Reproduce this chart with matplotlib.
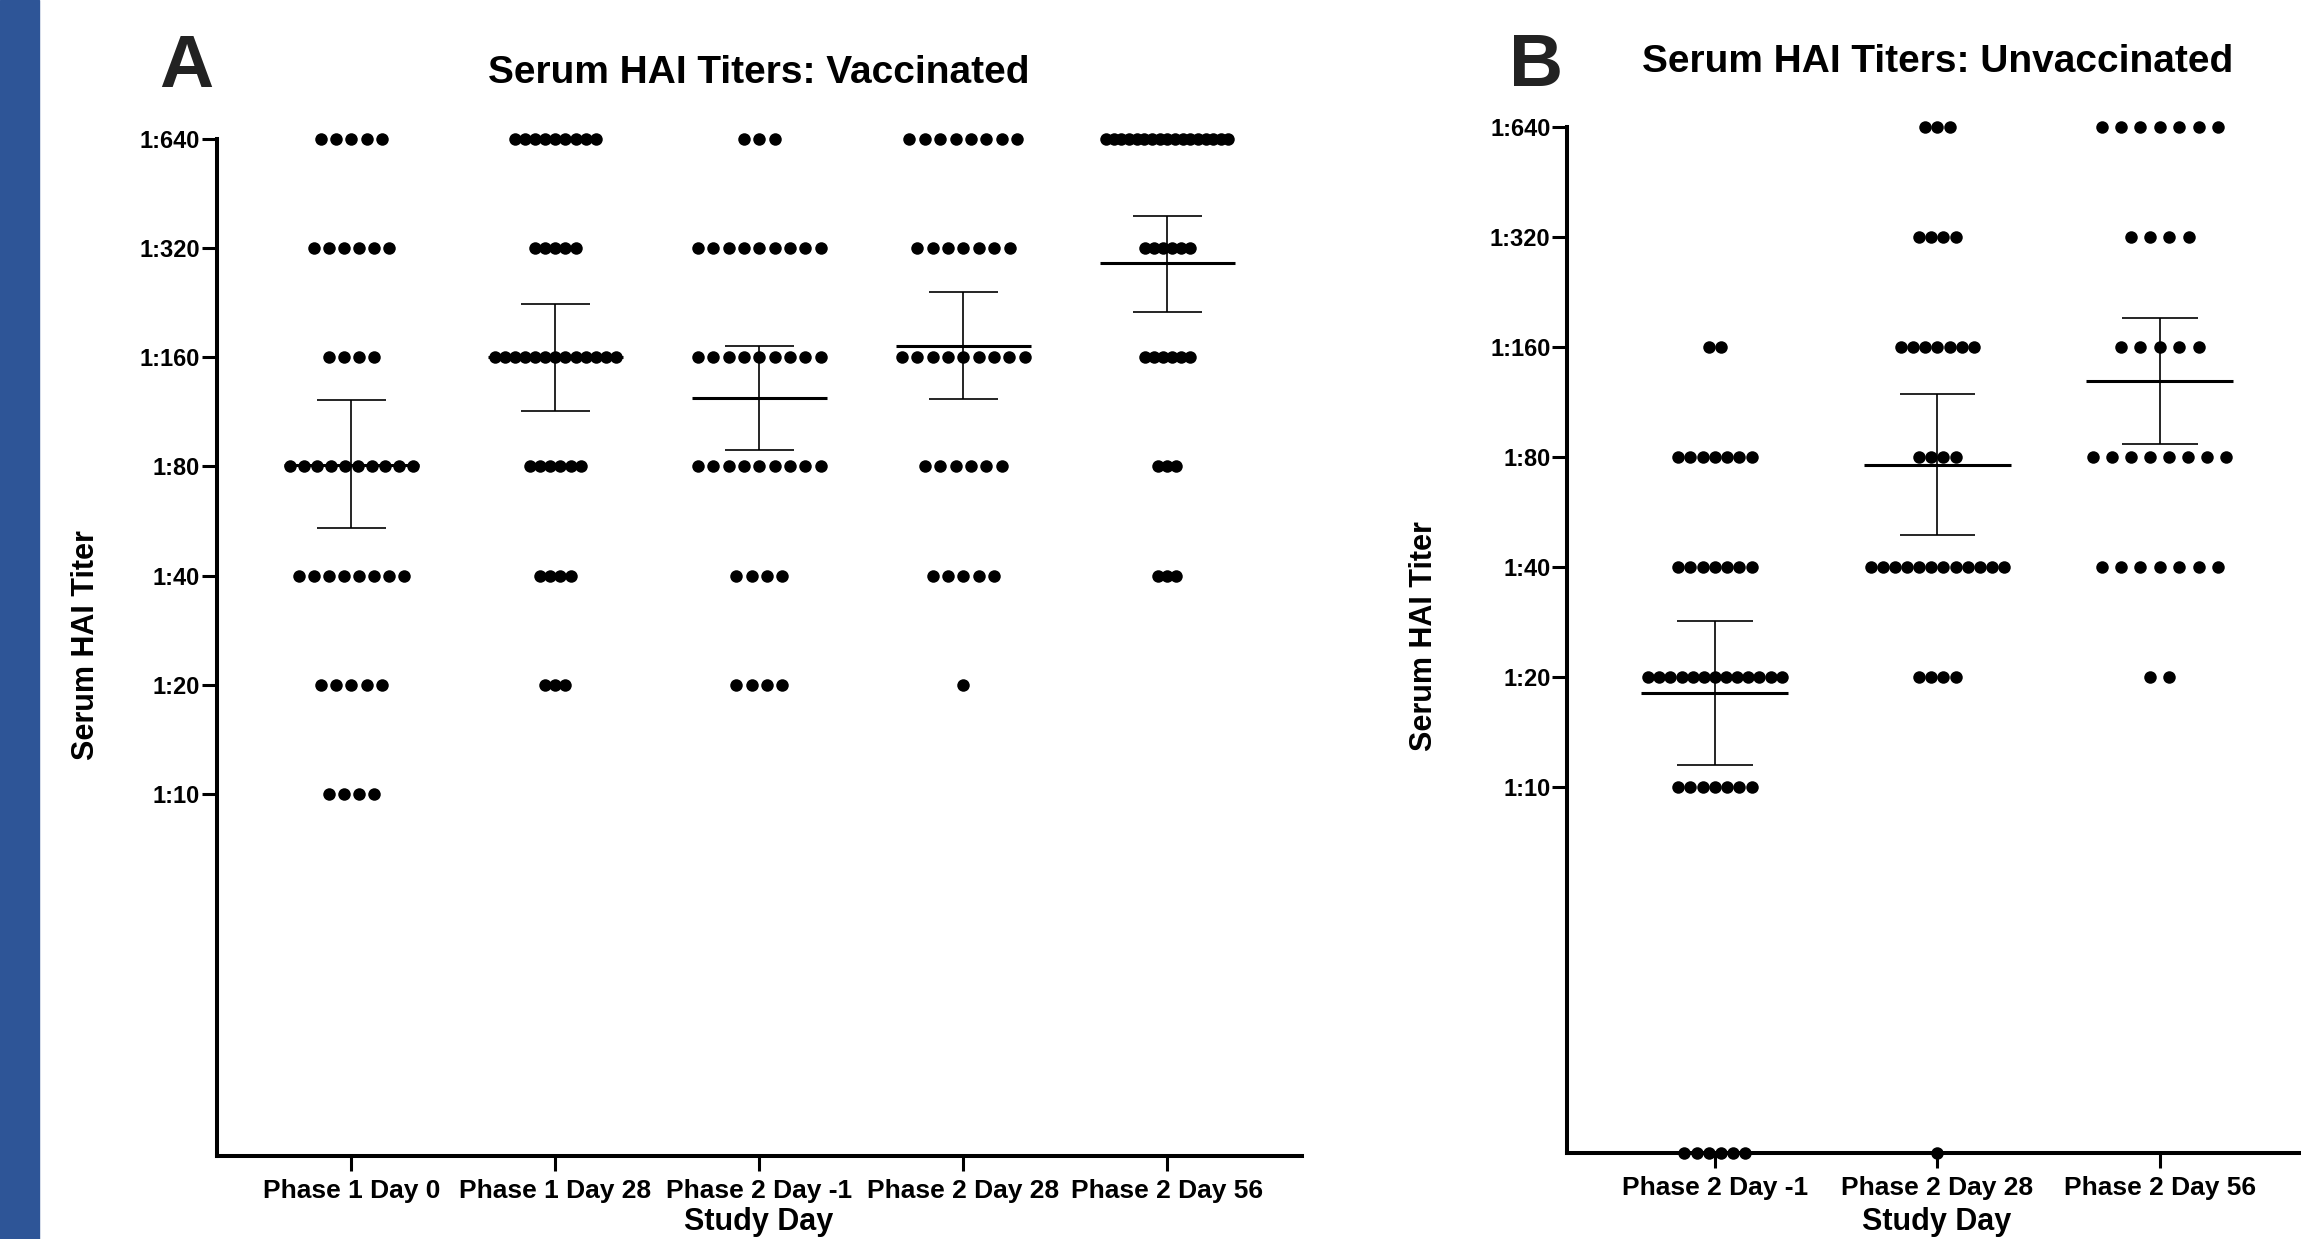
import matplotlib
matplotlib.use('Agg')
import matplotlib.pyplot as plt
from matplotlib.patches import Rectangle
from matplotlib.ticker import NullLocator
import numpy as np

plt.rcParams['font.family'] = ['Liberation Sans', 'DejaVu Sans']
plt.rcParams['font.weight'] = 'bold'

# ---------------- data ----------------
titer_levels = [640, 320, 160, 80, 40, 20, 10, 1]          # 1 = below detection (on axis)
ytick_values = [10, 20, 40, 80, 160, 320, 640]
ytick_labels = ['1:10', '1:20', '1:40', '1:80', '1:160', '1:320', '1:640']

# Panel A: vaccinated
groups_A = ['Phase 1 Day 0', 'Phase 1 Day 28', 'Phase 2 Day -1', 'Phase 2 Day 28', 'Phase 2 Day 56']
counts_A_p1_day0 = [5, 6, 4, 10, 8, 5, 4, 0]
counts_A_p1_day28 = [9, 5, 13, 6, 4, 3, 0, 0]
counts_A_p2_daym1 = [3, 9, 9, 9, 4, 4, 0, 0]
counts_A_p2_day28 = [8, 7, 9, 6, 5, 1, 0, 0]
counts_A_p2_day56 = [17, 6, 6, 3, 3, 0, 0, 0]
gmean_A = [81, 160, 124, 172, 291]
ci_low_A = [54, 114, 89, 123, 214]
ci_high_A = [122, 224, 172, 242, 393]

# Panel B: unvaccinated
groups_B = ['Phase 2 Day -1', 'Phase 2 Day 28', 'Phase 2 Day 56']
counts_B_p2_daym1 = [0, 0, 2, 7, 7, 13, 7, 6]
counts_B_p2_day28 = [3, 4, 7, 4, 12, 4, 0, 1]
counts_B_p2_day56 = [7, 4, 5, 8, 7, 2, 0, 0]
gmean_B = [18.1, 76, 129]
ci_low_B = [11.5, 49, 87]
ci_high_B = [28.5, 119, 192]

# ---------------- style ----------------
DOT_SPACING_A = [0.074, 0.0495, 0.0755, 0.0755, 0.0446]
DOT_SPACING_B = [0.0549, 0.0549, 0.0872]
MAX_SPAN = 0.60
MS = 9
SPINE_LW = 2.9

fig = plt.figure(figsize=(23.01, 12.39), dpi=100)
fig.patches.append(Rectangle((0, 0), 39 / 2301, 1, transform=fig.transFigure,
                             color='#2E5597', zorder=0))


def draw_panel(ax, groups, counts_list, spacings, gm, lo, hi, xlim):
    for i, counts in enumerate(counts_list):
        for level, n in zip(titer_levels, counts):
            if n == 0:
                continue
            s = spacings[i] if n == 1 else min(spacings[i], MAX_SPAN / (n - 1))
            xs = i + (np.arange(n) - (n - 1) / 2) * s
            ax.plot(xs, [level] * n, 'o', ms=MS, color='black', mec='black',
                    mew=0, clip_on=False, zorder=3)
    x = np.arange(len(groups))
    ax.vlines(x, lo, hi, color='black', lw=1.2, zorder=2)
    ax.hlines(lo, x - 0.17, x + 0.17, color='black', lw=1.2, zorder=2)
    ax.hlines(hi, x - 0.17, x + 0.17, color='black', lw=1.2, zorder=2)
    ax.hlines(gm, x - 0.33, x + 0.33, color='black', lw=2.2, zorder=2)

    ax.set_yscale('log', base=2)
    ax.set_ylim(1, 640)
    ax.set_xlim(*xlim)
    ax.set_yticks(ytick_values)
    ax.set_yticklabels(ytick_labels)
    ax.yaxis.set_minor_locator(NullLocator())
    ax.set_xticks(x)
    ax.set_xticklabels(groups)
    for sp in ['top', 'right']:
        ax.spines[sp].set_visible(False)
    for sp in ['left', 'bottom']:
        ax.spines[sp].set_linewidth(SPINE_LW)
    ax.tick_params(axis='y', length=10.8, width=2.2, pad=1, labelsize=17)
    ax.tick_params(axis='x', length=10.5, width=2.2, pad=6, labelsize=19)
    for lab in ax.get_xticklabels() + ax.get_yticklabels():
        lab.set_fontweight('bold')
    ax.patch.set_alpha(0)


axA = fig.add_axes([0.09413, 0.06699, 0.4715, 0.8206])
draw_panel(axA, groups_A,
           [counts_A_p1_day0, counts_A_p1_day28, counts_A_p2_daym1,
            counts_A_p2_day28, counts_A_p2_day56],
           DOT_SPACING_A, gmean_A, ci_low_A, ci_high_A, (-0.661, 4.658))

axB = fig.add_axes([0.6810, 0.06965, 0.3190, 0.8281])
draw_panel(axB, groups_B,
           [counts_B_p2_daym1, counts_B_p2_day28, counts_B_p2_day56],
           DOT_SPACING_B, gmean_B, ci_low_B, ci_high_B, (-0.665, 2.635))

# texts
fig.text(186 / 2301, 1 - 87.3 / 1239, 'A', fontsize=54, fontweight='bold',
         color='#222222', ha='center', va='baseline')
fig.text(759 / 2301, 1 - 83.3 / 1239, 'Serum HAI Titers: Vaccinated', fontsize=28,
         fontweight='bold', ha='center', va='baseline')
fig.text(1536.5 / 2301, 1 - 86 / 1239, 'B', fontsize=54, fontweight='bold',
         color='#222222', ha='center', va='baseline')
fig.text(1938 / 2301, 1 - 71.7 / 1239, 'Serum HAI Titers: Unvaccinated', fontsize=28,
         fontweight='bold', ha='center', va='baseline')

fig.text(86 / 2301, 1 - 645 / 1239, 'Serum HAI Titer', fontsize=22, fontweight='bold',
         rotation=90, ha='center', va='center')
fig.text(1424 / 2301, 1 - 636 / 1239, 'Serum HAI Titer', fontsize=22, fontweight='bold',
         rotation=90, ha='center', va='center')

fig.text(759 / 2301, 0.007, 'Study Day', fontsize=22, fontweight='bold',
         ha='center', va='baseline')
fig.text(1937 / 2301, 0.007, 'Study Day', fontsize=22, fontweight='bold',
         ha='center', va='baseline')

fig.savefig('out.png', dpi=100)
